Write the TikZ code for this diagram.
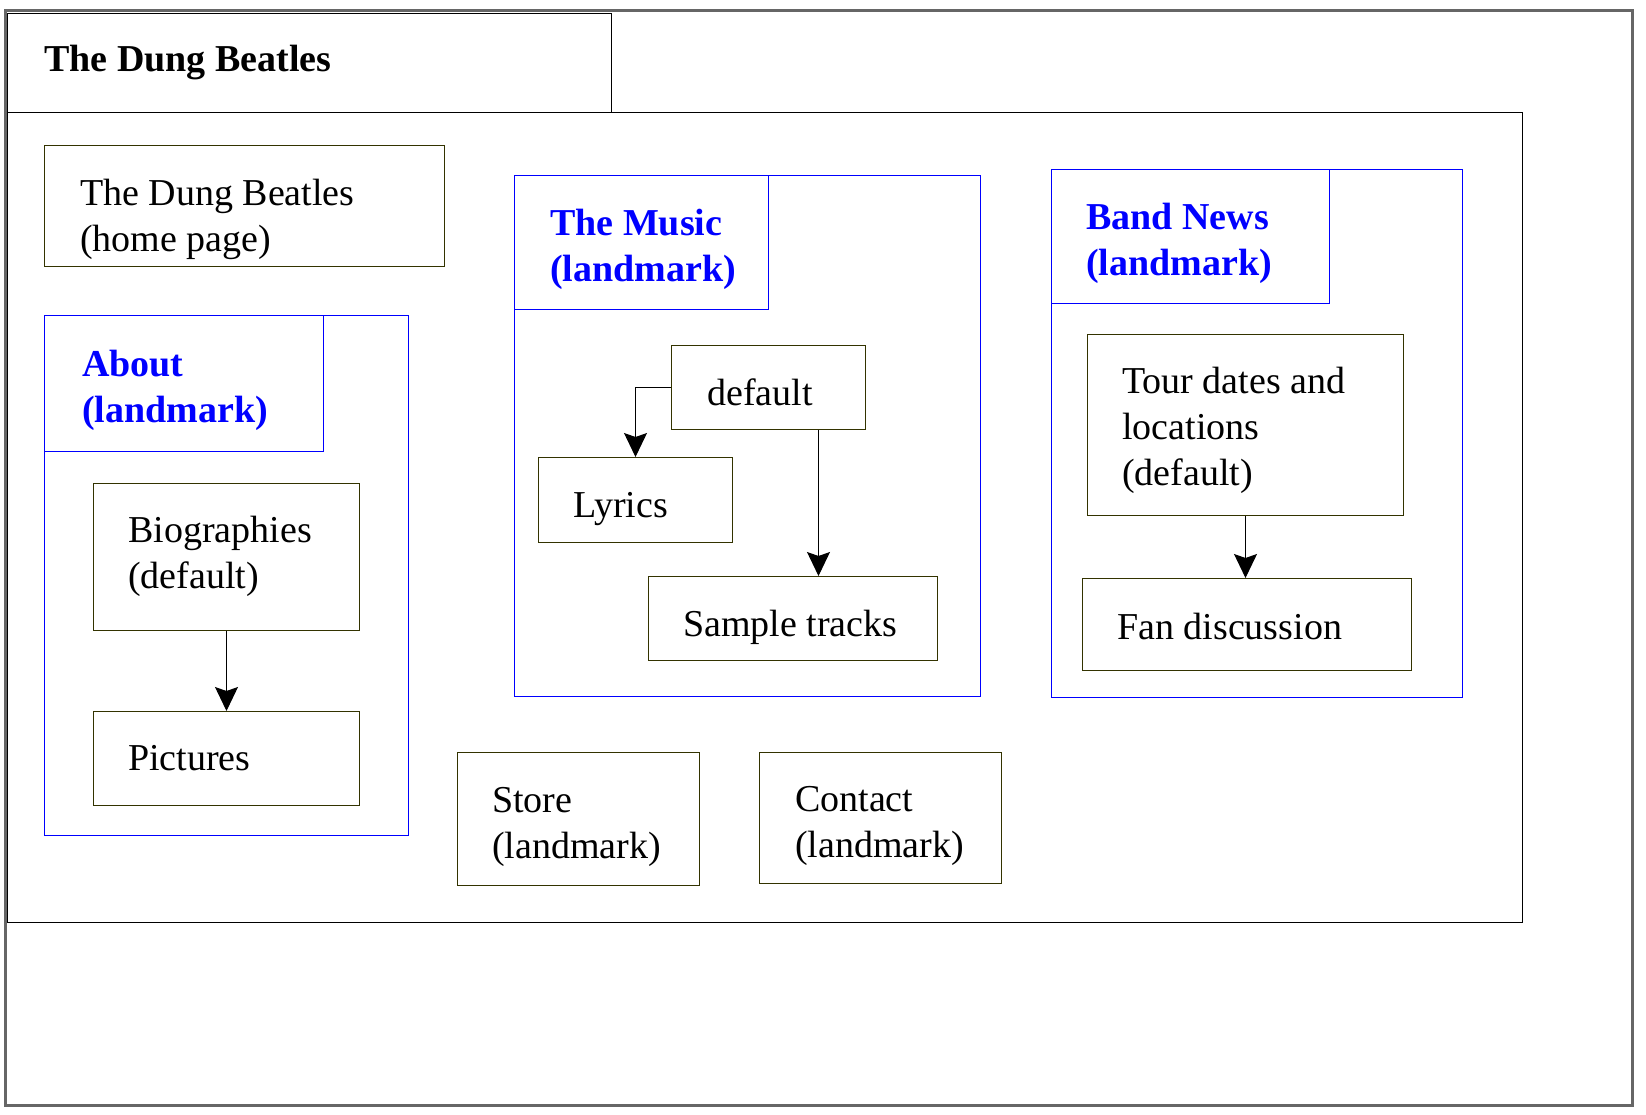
\documentclass[tikz,border=0pt]{standalone}
\usepackage{fontspec}
\setmainfont{Liberation Serif}
\usepackage{tikz}
\usetikzlibrary{arrows.meta, positioning}
\definecolor{dbOlive}{HTML}{333300}
\definecolor{dbBlue}{HTML}{0000FF}
\definecolor{dbGrey}{HTML}{666666}

\begin{document}
\begin{tikzpicture}[x=1pt, y=-1pt,
  pagebox/.style={draw=black, line width=1pt, anchor=north west, inner sep=0pt},
  sect/.style={draw=dbOlive, line width=1pt, anchor=north west, inner sep=0pt},
  lmark/.style={draw=dbBlue, line width=1pt, anchor=north west, inner sep=0pt},
  txt/.style={anchor=base west, align=left, inner sep=0pt, font=\fontsize{38}{46}\selectfont},
  lmtxt/.style={txt, font=\fontsize{38}{46}\selectfont\bfseries, text=dbBlue},
  link/.style={-{Stealth[length=24pt,width=23pt,inset=4pt]}, line width=1pt}]
\fill[white] (0,0) rectangle (1646,1114);
\useasboundingbox (0,0) rectangle (1646,1114);
\draw[dbGrey, line width=3pt] (5,10) rectangle (1632,1105);
% page header and body
\node[pagebox, minimum width=604pt, minimum height=99pt] (header) at (7,13) {};
\node[pagebox, minimum width=1515pt, minimum height=810pt] (body) at (7,112) {};
\node[txt, font=\fontsize{38}{46}\selectfont\bfseries] (header-t) at ([shift={(37pt,-58pt)}]header.north west) {The Dung Beatles};
% home page
\node[sect, minimum width=400pt, minimum height=121pt] (home) at (44,145) {};
\node[txt] (home-t) at ([shift={(36pt,-106pt)}]home.north west) {The Dung Beatles\\(home page)};
% about
\node[lmark, minimum width=364pt, minimum height=520pt] (about) at (44,315) {};
\node[lmark, minimum width=279pt, minimum height=136pt] (about-h) at (about.north west) {};
\node[lmtxt] (about-t) at ([shift={(38pt,-107pt)}]about-h.north west) {About\\(landmark)};
\node[sect, minimum width=266pt, minimum height=147pt] (bio) at (93,483) {};
\node[txt] (bio-t) at ([shift={(35pt,-105pt)}]bio.north west) {Biographies\\(default)};
\node[sect, minimum width=266pt, minimum height=94pt] (pics) at (93,711) {};
\node[txt] (pics-t) at ([shift={(35pt,-59pt)}]pics.north west) {Pictures};
% the music
\node[lmark, minimum width=466pt, minimum height=521pt] (music) at (514,175) {};
\node[lmark, minimum width=254pt, minimum height=134pt] (music-h) at (music.north west) {};
\node[lmtxt] (music-t) at ([shift={(36pt,-106pt)}]music-h.north west) {The Music\\(landmark)};
\node[sect, minimum width=194pt, minimum height=84pt] (dflt) at (671,345) {};
\node[txt] (dflt-t) at ([shift={(36pt,-60pt)}]dflt.north west) {default};
\node[sect, minimum width=194pt, minimum height=85pt] (lyrics) at (538,457) {};
\node[txt] (lyrics-t) at ([shift={(35pt,-60pt)}]lyrics.north west) {Lyrics};
\node[sect, minimum width=289pt, minimum height=84pt] (tracks) at (648,576) {};
\node[txt] (tracks-t) at ([shift={(35pt,-60pt)}]tracks.north west) {Sample tracks};
% band news
\node[lmark, minimum width=411pt, minimum height=528pt] (news) at (1051,169) {};
\node[lmark, minimum width=278pt, minimum height=134pt] (news-h) at (news.north west) {};
\node[lmtxt] (news-t) at ([shift={(35pt,-106pt)}]news-h.north west) {Band News\\(landmark)};
\node[sect, minimum width=316pt, minimum height=181pt] (tour) at (1087,334) {};
\node[txt] (tour-t) at ([shift={(35pt,-151pt)}]tour.north west) {Tour dates and\\locations\\(default)};
\node[sect, minimum width=329pt, minimum height=92pt] (fans) at (1082,578) {};
\node[txt] (fans-t) at ([shift={(35pt,-61pt)}]fans.north west) {Fan discussion};
% store and contact
\node[sect, minimum width=242pt, minimum height=133pt] (store) at (457,752) {};
\node[txt] (store-t) at ([shift={(35pt,-106pt)}]store.north west) {Store\\(landmark)};
\node[sect, minimum width=242pt, minimum height=131pt] (contact) at (759,752) {};
\node[txt] (contact-t) at ([shift={(36pt,-105pt)}]contact.north west) {Contact\\(landmark)};
% links
\draw[link] (bio.south) -- (pics.north);
\draw[link] (dflt.west) -| (lyrics.north);
\draw[link] ([xshift=50pt]dflt.south) -- ([xshift=50pt]dflt.south |- tracks.north);
\draw[link] (tour.south) -- (tour.south |- fans.north);
\end{tikzpicture}
\end{document}
